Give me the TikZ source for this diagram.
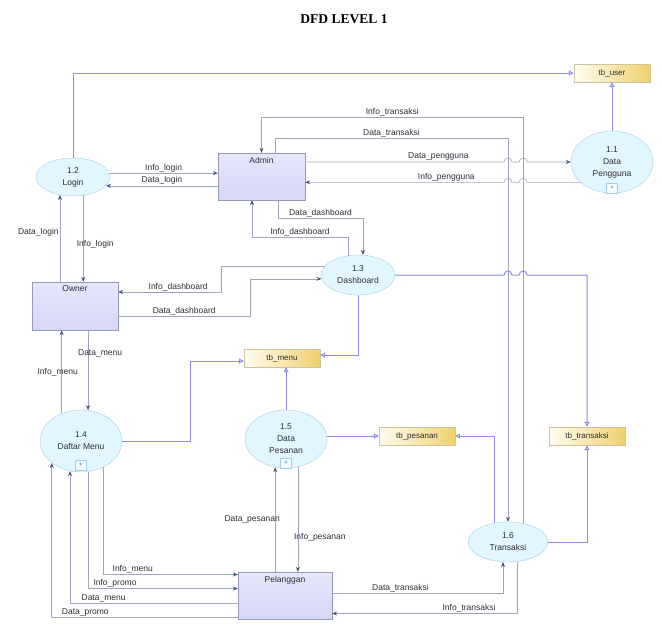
\documentclass[tikz,border=0pt]{standalone}
\usepackage{fontspec}
\setmainfont{Liberation Serif}
\setsansfont{Liberation Sans}
\usetikzlibrary{positioning, arrows.meta, shapes.geometric, calc}
\definecolor{flowline}{RGB}{160, 165, 188}
\definecolor{flowtip}{RGB}{70, 85, 125}
\definecolor{storeline}{RGB}{140, 140, 228}
\definecolor{procfill}{RGB}{226, 246, 255}
\definecolor{procline}{RGB}{165, 205, 232}
\definecolor{entfill}{RGB}{214, 214, 246}
\definecolor{entlight}{RGB}{230, 230, 252}
\definecolor{entline}{RGB}{150, 152, 190}
\definecolor{storeleft}{RGB}{255, 253, 240}
\definecolor{storeright}{RGB}{240, 208, 110}
\definecolor{storeedge}{RGB}{205, 195, 160}
\definecolor{txt}{RGB}{45, 45, 55}

\begin{document}
\begin{tikzpicture}[
    x=1pt, y=-1pt,
    proc/.style={
        ellipse,
        draw=procline,
        fill=procfill,
        align=center,
        inner sep=0pt,
        font=\sffamily\fontsize{8.5}{12}\selectfont,
        text=txt
    },
    entity/.style={
        draw=entline,
        top color=entlight,
        bottom color=entfill,
        minimum height=47pt,
        inner sep=0pt,
        label={[anchor=north, inner sep=4pt, text=txt, font=\sffamily\fontsize{8.5}{10}\selectfont]north:#1}
    },
    store/.style={
        draw=storeedge,
        left color=storeleft,
        right color=storeright,
        minimum width=76pt,
        minimum height=18pt,
        inner sep=0pt,
        font=\sffamily\fontsize{8}{9}\selectfont,
        text=txt
    },
    plusbox/.style={
        draw=procline,
        fill=white!60!procfill,
        minimum width=11pt,
        minimum height=10pt,
        inner sep=0pt,
        font=\sffamily\fontsize{6}{6}\selectfont,
        text=flowtip
    },
    flow/.style={
        draw=flowline,
        line width=0.6pt,
        -{Stealth[length=5pt, width=4pt, color=flowtip]}
    },
    storeflow/.style={
        draw=storeline,
        line width=1pt,
        -{Triangle[open, length=5pt, width=5pt]}
    },
    lbl/.style={font=\sffamily\fontsize{8.5}{9}\selectfont, text=txt, inner sep=1pt}
]
\useasboundingbox (0,0) rectangle (662,632);

\node[font=\bfseries\fontsize{13.5}{15}\selectfont] (title) at (344,19) {DFD LEVEL 1};

% === Processes ===
\node[proc, minimum width=82pt, minimum height=62pt] (dpengguna) at (612,162) {1.1\\Data\\Pengguna};
\node[proc, minimum width=74pt, minimum height=38pt] (login) at (73,177) {1.2\\Login};
\node[proc, minimum width=74pt, minimum height=40pt] (dashboard) at (358,275) {1.3\\Dashboard};
\node[proc, minimum width=82pt, minimum height=62pt] (dmenu) at (81,441) {1.4\\Daftar Menu};
\node[proc, minimum width=82pt, minimum height=58pt] (dpesanan) at (286,439) {1.5\\Data\\Pesanan};
\node[proc, minimum width=80pt, minimum height=40pt] (transaksi) at (508,542) {1.6\\Transaksi};

\node[plusbox, above=0pt of dpengguna.south] (dpenggunaplus) {+};
\node[plusbox, above=2pt of dmenu.south] (dmenuplus) {+};
\node[plusbox, above=0pt of dpesanan.south] (dpesananplus) {+};

% === Entities ===
\node[entity=Admin, minimum width=87pt] (admin) at (261.5,176.5) {};
\node[entity=Owner, minimum width=86pt, minimum height=48pt] (owner) at (75,306) {};
\node[entity=Pelanggan, minimum width=94pt] (pelanggan) at (285,595.5) {};

% === Stores ===
\node[store] (tbuser) at (612,73) {tb\_user};
\node[store] (tbmenu) at (282,358) {tb\_menu};
\node[store] (tbpesanan) at (417,436) {tb\_pesanan};
\node[store] (tbtransaksi) at (587,436) {tb\_transaksi};

\coordinate (dtx) at (transaksi.north |- 0,138);
\coordinate (itx) at (transaksi.51 |- 0,117);

% === Login / Admin ===
\draw[storeflow] (login.north) |- (tbuser.west);
\draw[storeflow] (dpengguna.north) -- (tbuser.south);
\draw[flow] (login.6) -- node[lbl, above] {Info\_login} (admin.west |- login.6);
\draw[flow] (admin.west |- login.-15) -- node[lbl, above] {Data\_login} (login.-15);
\draw[flow] (login.234 |- owner.north) -- node[lbl, left, pos=0.57] {Data\_login} (login.234);
\draw[flow] (login.-61) -- node[lbl, pos=0.57, xshift=12pt] {Info\_login} (login.-61 |- owner.north);

% === Admin / Data Pengguna ===
\draw[flow] (admin.east |- dpengguna.west)
    -- node[lbl, above, pos=0.67] {Data\_pengguna} ($(dtx |- dpengguna.west)+(-4,0)$)
    arc[start angle=180, end angle=0, radius=4pt]
    -- ($(itx |- dpengguna.west)+(-4,0)$)
    arc[start angle=180, end angle=0, radius=4pt]
    -- (dpengguna.west);
\draw[flow] (dpengguna.213)
    -- ($(itx |- dpengguna.213)+(4,0)$)
    arc[start angle=0, end angle=180, radius=4pt]
    -- ($(dtx |- dpengguna.213)+(4,0)$)
    arc[start angle=0, end angle=180, radius=4pt]
    -- node[lbl, above, pos=0.29] {Info\_pengguna} (admin.east |- dpengguna.213);

% === Admin / Transaksi ===
\draw[flow] (transaksi.51) -- (itx) -| node[lbl, above, pos=0.25] {Info\_transaksi} (admin.north);
\draw[flow] ([xshift=13.5pt]admin.north) |- node[lbl, above, pos=0.75] {Data\_transaksi} (dtx) -- (transaksi.north);

% === Dashboard ===
\draw[flow] ([xshift=16.5pt]admin.south) -- ++(0,18) -| node[lbl, above, pos=0.25] {Data\_dashboard} (dashboard.76);
\draw[flow] (dashboard.117) -- ++(0,-18) -| node[lbl, above, pos=0.25] {Info\_dashboard} ([xshift=-9.5pt]admin.south);
\draw[flow] (dashboard.165) -- ++(-103,0) |- node[lbl, above, pos=0.71] {Info\_dashboard} ([yshift=14pt]owner.east);
\draw[flow] ([yshift=-10pt]owner.east) -- node[lbl, above] {Data\_dashboard} ++(132,0) |- (dashboard.186);
\draw[storeflow] (dashboard.south) |- ([yshift=3pt]tbmenu.east);
\draw[storeflow] (dashboard.east)
    -- ($(dtx |- dashboard.east)+(-4,0)$)
    arc[start angle=180, end angle=0, radius=4pt]
    -- ($(itx |- dashboard.east)+(-4,0)$)
    arc[start angle=180, end angle=0, radius=4pt]
    -| (tbtransaksi.north);

% === Daftar Menu ===
\draw[flow] (dmenu.77 |- owner.south) -- node[lbl, pos=0.29, xshift=12pt] {Data\_menu} (dmenu.77);
\draw[flow] (dmenu.125) -- node[lbl, pos=0.49, xshift=-4pt] {Info\_menu} (dmenu.125 |- owner.south);
\draw[storeflow] (dmenu.east) -- ++(68,0) |- ([yshift=-3pt]tbmenu.west);
\draw[flow] (dmenu.-50) |- node[lbl, above, pos=0.61] {Info\_menu} ([yshift=21pt]pelanggan.west);
\draw[flow] (dmenu.-77) |- node[lbl, above, pos=0.59] {Info\_promo} ([yshift=7pt]pelanggan.west);
\draw[flow] ([yshift=-8pt]pelanggan.west) -| node[lbl, above, pos=0.4] {Data\_menu} (dmenu.-110);
\draw[flow] ([yshift=-22pt]pelanggan.west) -| node[lbl, above, pos=0.41] {Data\_promo} (dmenu.-143);

% === Data Pesanan ===
\draw[storeflow] (dpesanan.north) -- (dpesanan.north |- tbmenu.south);
\draw[storeflow] (dpesanan.east |- tbpesanan.west) -- (tbpesanan.west);
\draw[flow] (dpesanan.-111 |- pelanggan.north) -- node[lbl, xshift=-23pt] {Data\_pesanan} (dpesanan.-111);
\draw[flow] (dpesanan.-67) -- node[lbl, pos=0.67, xshift=22pt] {Info\_pesanan} (dpesanan.-67 |- pelanggan.north);

% === Transaksi ===
\draw[storeflow] (transaksi.125) |- (tbpesanan.east);
\draw[storeflow] (transaksi.east) -| (tbtransaksi.south);
\draw[flow] ([yshift=2pt]pelanggan.east) -| node[lbl, above, pos=0.2] {Data\_transaksi} (transaksi.-104);
\draw[flow] (transaksi.-65) |- node[lbl, above, pos=0.63] {Info\_transaksi} ([yshift=-18pt]pelanggan.east);

\end{tikzpicture}
\end{document}
